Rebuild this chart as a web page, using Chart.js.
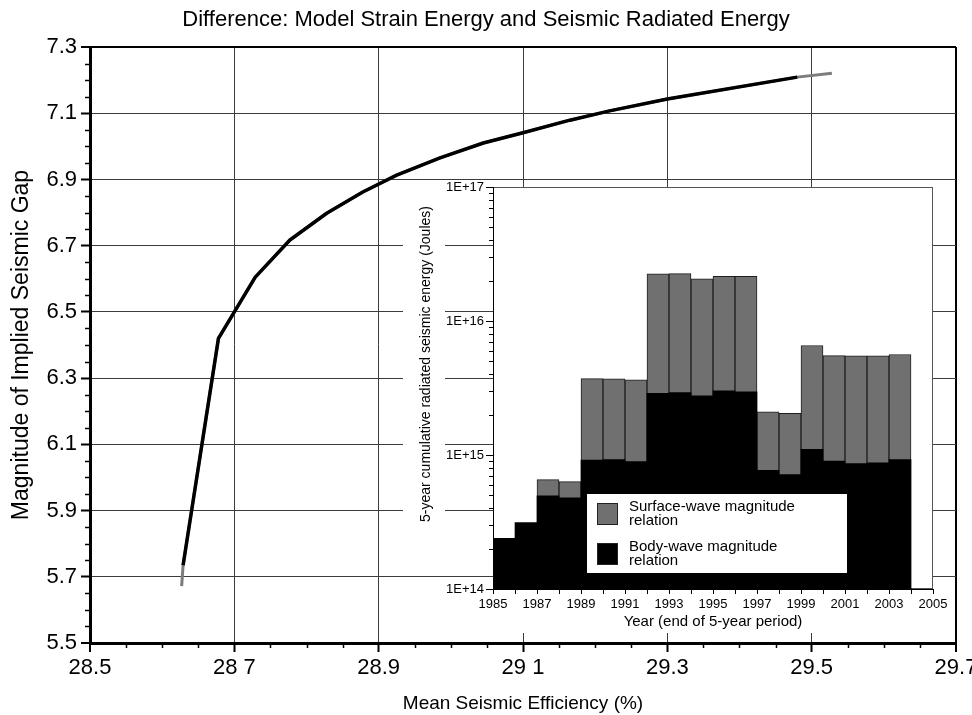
<!DOCTYPE html>
<html>
<head>
<meta charset="utf-8">
<title>Seismic gap vs seismic efficiency</title>
<script src="https://cdn.jsdelivr.net/npm/chart.js@4.4.1/dist/chart.umd.min.js"></script>
<style>
  body { margin: 0; background: #fff; }
  #wrap { position: relative; width: 972px; height: 715px; }
  #wrap canvas { position: absolute; left: 0; top: 0; }
</style>
</head>
<body>
<div id="wrap">
  <canvas id="gapChart" width="972" height="715"></canvas>
  <canvas id="energyChart" width="972" height="715"></canvas>
</div>
<script>
// main curve: mean seismic efficiency (%) against implied gap magnitude
const efficiency = [28.629, 28.678, 28.729, 28.777, 28.828, 28.878, 28.925, 28.985, 29.045, 29.100, 29.165, 29.220, 29.300, 29.480];
const gapMagnitude = [5.735, 6.420, 6.605, 6.717, 6.798, 6.862, 6.913, 6.965, 7.010, 7.041, 7.079, 7.107, 7.143, 7.209];
// the grey trace runs a little past both ends of the black one
const efficiencyExt = [28.627, ...efficiency, 29.528];
const gapMagnitudeExt = [5.672, ...gapMagnitude, 7.221];

const efficiencyTicks = ['28.5', '28 7', '28.9', '29 1', '29.3', '29.5', '29.7'];
const magnitudeTicks = ['5.5', '5.7', '5.9', '6.1', '6.3', '6.5', '6.7', '6.9', '7.1', '7.3'];

// inset: 5-year cumulative radiated energy (J), one bar per year
const years = [1985, 1986, 1987, 1988, 1989, 1990, 1991, 1992, 1993, 1994, 1995, 1996, 1997, 1998, 1999, 2000, 2001, 2002, 2003];
const surfaceWave = [null, null, 6.55e14, 6.33e14, 3.72e15, 3.70e15, 3.64e15, 2.25e16, 2.26e16, 2.06e16, 2.15e16, 2.15e16, 2.10e15, 2.05e15, 6.56e15, 5.52e15, 5.50e15, 5.50e15, 5.62e15];
const bodyWave = [2.39e14, 3.13e14, 4.95e14, 4.79e14, 9.15e14, 9.25e14, 8.94e14, 2.89e15, 2.92e15, 2.76e15, 3.01e15, 2.96e15, 7.70e14, 7.15e14, 1.10e15, 9.00e14, 8.63e14, 8.73e14, 9.25e14];
const yearTicks = ['1985', '1987', '1989', '1991', '1993', '1995', '1997', '1999', '2001', '2003', '2005'];
const energyTicks = ['1E+14', '1E+15', '1E+16', '1E+17'];
const legendLabels = [['Surface-wave magnitude', 'relation'], ['Body-wave magnitude', 'relation']];
const energyAxisTitle = '5-year cumulative radiated seismic energy (Joules)';

const FONT = "'Liberation Sans', Arial, Helvetica, sans-serif";
Chart.defaults.font.family = FONT;
Chart.defaults.color = '#000';

// short unlabelled ticks between the labelled ones
function minorTicksPlugin(spec) {
  return {
    id: 'minorTicks',
    afterDraw(chart) {
      const ctx = chart.ctx;
      ctx.save();
      ctx.strokeStyle = '#000';
      Object.keys(spec).forEach(id => {
        const scale = chart.scales[id];
        const o = spec[id];
        ctx.lineWidth = o.width;
        ctx.beginPath();
        o.values.forEach(v => {
          const p = Math.round(scale.getPixelForValue(v)) + 0.5;
          if (scale.isHorizontal()) {
            ctx.moveTo(p, scale.top);
            ctx.lineTo(p, scale.top + o.length);
          } else {
            ctx.moveTo(scale.right, p);
            ctx.lineTo(scale.right - o.length, p);
          }
        });
        ctx.stroke();
      });
      ctx.restore();
    }
  };
}

const effMinor = [];
for (let k = 1; k < 24; k++) if (k % 4) effMinor.push(28.5 + k * 0.05);
const magMinor = [];
for (let k = 1; k < 36; k++) if (k % 4) magMinor.push(5.5 + k * 0.05);

const tickValue = t => parseFloat(t.replace(' ', '.'));
const isEdge = (v, lo, hi) => Math.abs(v - lo) < 1e-6 || Math.abs(v - hi) < 1e-6;

new Chart(document.getElementById('gapChart'), {
  type: 'line',
  data: {
    datasets: [
      {
        label: 'Implied seismic gap',
        data: efficiency.map((x, i) => ({x: x, y: gapMagnitude[i]})),
        borderColor: '#000',
        borderWidth: 3.5,
        pointRadius: 0,
        borderJoinStyle: 'round'
      },
      {
        label: 'Implied seismic gap (extended)',
        data: efficiencyExt.map((x, i) => ({x: x, y: gapMagnitudeExt[i]})),
        borderColor: '#7c7c7c',
        borderWidth: 3,
        pointRadius: 0
      }
    ]
  },
  options: {
    responsive: false,
    animation: false,
    devicePixelRatio: 1,
    layout: { padding: 0 },
    plugins: {
      legend: { display: false },
      tooltip: { enabled: false },
      title: {
        display: true,
        text: 'Difference: Model Strain Energy and Seismic Radiated Energy',
        color: '#000',
        font: { size: 22, weight: 'normal' },
        padding: { top: 7, bottom: 13.6 }
      }
    },
    scales: {
      x: {
        type: 'linear',
        min: 28.5,
        max: 29.7,
        afterBuildTicks: s => { s.ticks = efficiencyTicks.map(t => ({value: tickValue(t)})); },
        // keep the plot box fixed; the right margin comes from the scale padding
        afterFit: s => { s.height = 72; s.paddingLeft = 0; s.paddingRight = 16; },
        ticks: {
          autoSkip: false,
          maxRotation: 0,
          padding: 3,
          font: { size: 22 },
          callback: (v, i) => efficiencyTicks[i]
        },
        grid: {
          color: c => isEdge(c.tick.value, 28.5, 29.7) ? '#000' : '#3c3c3c',
          lineWidth: c => isEdge(c.tick.value, 28.5, 29.7) ? 2 : 1,
          tickColor: '#000',
          tickWidth: 2,
          tickLength: 9
        },
        border: { display: true, color: '#000', width: 3 },
        title: {
          display: true,
          text: 'Mean Seismic Efficiency (%)',
          font: { size: 19 },
          padding: { top: 0, bottom: 0 }
        }
      },
      y: {
        type: 'linear',
        min: 5.5,
        max: 7.3,
        afterBuildTicks: s => { s.ticks = magnitudeTicks.map(t => ({value: tickValue(t)})); },
        afterFit: s => { s.width = 90; s.paddingTop = 0; s.paddingBottom = 0; },
        ticks: {
          autoSkip: false,
          padding: 4,
          font: { size: 22 },
          callback: (v, i) => magnitudeTicks[i]
        },
        grid: {
          color: c => isEdge(c.tick.value, 5.5, 7.3) ? '#000' : '#3c3c3c',
          lineWidth: c => isEdge(c.tick.value, 5.5, 7.3) ? 2 : 1,
          tickColor: '#000',
          tickWidth: 2,
          tickLength: 9
        },
        border: { display: true, color: '#000', width: 3 },
        title: {
          display: true,
          text: 'Magnitude of Implied Seismic Gap',
          font: { size: 23 },
          padding: { top: 8 }
        }
      }
    }
  },
  plugins: [minorTicksPlugin({
    x: { values: effMinor, length: 5, width: 1.5 },
    y: { values: magMinor, length: 5, width: 1.5 }
  })]
});

// white panels behind the inset so the main grid does not show through,
// plus the inset's vertical axis title (it sits above the axis centre)
const insetBackground = {
  id: 'insetBackground',
  beforeDraw(chart) {
    const {ctx, chartArea: a} = chart;
    ctx.save();
    ctx.fillStyle = '#fff';
    ctx.fillRect(a.left, a.top, a.right - a.left, a.bottom - a.top);
    ctx.fillRect(a.left - 8, a.bottom, a.right - a.left + 22, 44);
    ctx.fillRect(a.left - 90, a.top + 11, 42, 333);
    ctx.strokeStyle = '#555';
    ctx.lineWidth = 1;
    ctx.strokeRect(a.left + 0.5, a.top + 0.5, a.right - a.left - 1, a.bottom - a.top - 1);

    ctx.translate(a.left - 67, a.top + 177);
    ctx.rotate(-Math.PI / 2);
    ctx.fillStyle = '#000';
    ctx.font = '14px ' + FONT;
    ctx.textAlign = 'center';
    ctx.textBaseline = 'middle';
    ctx.fillText(energyAxisTitle, 0, 0);
    ctx.restore();
  }
};

// boxed legend inside the inset plot area
const insetLegend = {
  id: 'insetLegend',
  afterDatasetsDraw(chart) {
    const {ctx, chartArea: a} = chart;
    const x = a.left + 94, y = a.top + 307;
    const fills = ['Surface-wave', 'Body-wave'].map(n =>
      chart.data.datasets.find(d => d.label === n).backgroundColor);
    ctx.save();
    ctx.fillStyle = '#fff';
    ctx.fillRect(x, y, 260, 79);
    ctx.font = '15px ' + FONT;
    ctx.textBaseline = 'middle';
    legendLabels.forEach((lines, i) => {
      const top = y + 9 + i * 40;
      ctx.fillStyle = fills[i];
      ctx.fillRect(x + 10, top, 21, 22);
      ctx.strokeStyle = '#222';
      ctx.lineWidth = 1;
      ctx.strokeRect(x + 10.5, top + 0.5, 20, 21);
      ctx.fillStyle = '#000';
      lines.forEach((t, j) => ctx.fillText(t, x + 42, top + 3.5 + j * 14.5));
    });
    ctx.restore();
  }
};

const logMinor = [];
for (let n = 14; n < 17; n++) for (let m = 2; m < 10; m++) logMinor.push(m * Math.pow(10, n));

new Chart(document.getElementById('energyChart'), {
  type: 'bar',
  data: {
    datasets: [
      {
        label: 'Surface-wave',
        data: surfaceWave.map((v, i) => ({x: years[i] + 0.5, y: v})),
        backgroundColor: '#707070',
        borderColor: '#1e1e1e',
        borderWidth: 1,
        grouped: false,
        order: 2,
        barPercentage: 1,
        categoryPercentage: 1
      },
      {
        label: 'Body-wave',
        data: bodyWave.map((v, i) => ({x: years[i] + 0.5, y: v})),
        backgroundColor: '#000',
        borderWidth: 0,
        grouped: false,
        order: 1,
        barPercentage: 1,
        categoryPercentage: 1
      }
    ]
  },
  options: {
    responsive: false,
    animation: false,
    devicePixelRatio: 1,
    layout: { padding: { left: 400, top: 187, right: 39, bottom: 81 } },
    plugins: {
      legend: { display: false },
      tooltip: { enabled: false }
    },
    scales: {
      x: {
        type: 'linear',
        min: 1985,
        max: 2005,
        offset: false,
        afterBuildTicks: s => {
          const t = [];
          for (let yr = 1985; yr <= 2005; yr++) t.push({value: yr});
          s.ticks = t;
        },
        afterFit: s => { s.height = 45; s.paddingLeft = 0; s.paddingRight = 0; },
        ticks: {
          autoSkip: false,
          maxRotation: 0,
          padding: 3,
          font: { size: 13 },
          callback: v => yearTicks.includes(String(v)) ? String(v) : ''
        },
        grid: { offset: false, drawOnChartArea: false, tickColor: '#000', tickLength: 5 },
        border: { display: true, color: '#000', width: 1 },
        title: {
          display: true,
          text: 'Year (end of 5-year period)',
          font: { size: 15 },
          padding: { top: 0, bottom: 3 }
        }
      },
      y: {
        type: 'logarithmic',
        min: 1e14,
        max: 1e17,
        afterBuildTicks: s => { s.ticks = energyTicks.map(t => ({value: Number(t)})); },
        afterFit: s => { s.width = 93; s.paddingTop = 0; s.paddingBottom = 0; },
        ticks: {
          autoSkip: false,
          padding: 2,
          font: { size: 13 },
          callback: (v, i) => energyTicks[i]
        },
        grid: { drawOnChartArea: false, tickColor: '#000', tickLength: 7 },
        border: { display: true, color: '#000', width: 1 }
      }
    }
  },
  plugins: [insetBackground, insetLegend, minorTicksPlugin({
    y: { values: logMinor, length: 4, width: 1 }
  })]
});
</script>
</body>
</html>
